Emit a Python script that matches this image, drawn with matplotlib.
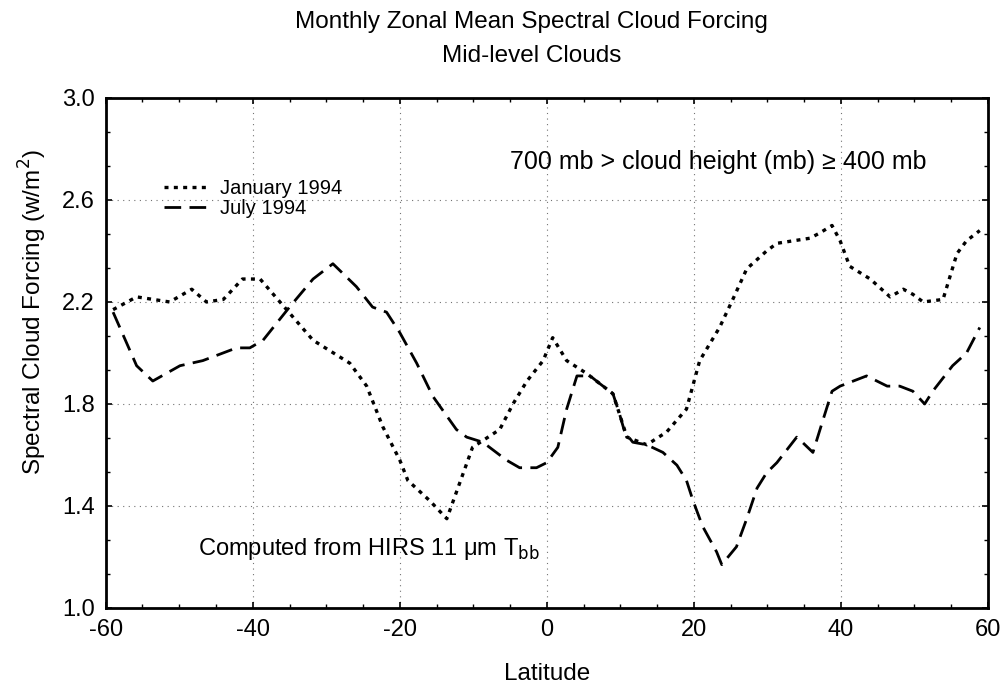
import numpy as np
import matplotlib
matplotlib.use('Agg')
import matplotlib.pyplot as plt
from matplotlib.ticker import MultipleLocator, FixedLocator

plt.rcParams['font.family'] = ['Liberation Sans', 'DejaVu Sans']
plt.rcParams['axes.unicode_minus'] = False

# january 1994 (dotted)
jan_lat = [-59, -55.8, -51.3, -48.3, -46.3, -44, -41.4, -39, -36.3, -31.8, -26.8, -24.5,
           -22.3, -20, -18.9, -15.9, -13.6, -10.1, -6.4, -4.6, -2.7, -0.5, 0.8, 2.7,
           5.4, 9.0, 10.9, 13.6, 16.3, 19, 20.8, 23.5, 25.3, 27.2, 29.9, 31.3, 35.8,
           37.1, 38.8, 39.9, 41.2, 44, 46.7, 48.5, 49.8, 51.2, 53.9, 55.8, 57.1, 58.9]
jan_val = [2.17, 2.22, 2.20, 2.25, 2.20, 2.21, 2.29, 2.29, 2.20, 2.05, 1.96, 1.87,
           1.71, 1.58, 1.50, 1.42, 1.35, 1.63, 1.70, 1.80, 1.89, 1.97, 2.06, 1.97,
           1.92, 1.84, 1.67, 1.64, 1.69, 1.78, 1.97, 2.10, 2.21, 2.33, 2.40, 2.43, 2.45,
           2.47, 2.50, 2.44, 2.34, 2.29, 2.22, 2.25, 2.23, 2.20, 2.21, 2.39, 2.44, 2.48]

# july 1994 (dashed)
jul_lat = [-59, -55.8, -53.6, -49.9, -46.8, -42.2, -40.4, -38.6, -35, -31.8, -29.1, -25.9,
           -23.7, -21.8, -20, -17.7, -15.5, -12.3, -10.9, -8.7, -5.5, -3.7, -1.4, 0,
           1.5, 2.7, 4.1, 5.9, 7.2, 9, 9.9, 10.6, 11.7, 13.6, 15.8, 17.7, 19, 19.9,
           21.2, 23.1, 23.8, 25.8, 27.2, 28.6, 29.9, 31.3, 34, 34.4, 36.2, 37.6, 38.8,
           39.9, 43.5, 46.3, 48, 49.8, 51.4, 52.5, 55.2, 57.1, 58.9]
jul_val = [2.16, 1.95, 1.89, 1.95, 1.97, 2.02, 2.02, 2.05, 2.18, 2.29, 2.35, 2.26,
           2.18, 2.16, 2.08, 1.96, 1.83, 1.70, 1.67, 1.65, 1.58, 1.55, 1.55, 1.57,
           1.63, 1.78, 1.91, 1.91, 1.88, 1.84, 1.76, 1.69, 1.65, 1.64, 1.61, 1.56, 1.50, 1.42,
           1.32, 1.22, 1.17, 1.24, 1.35, 1.47, 1.53, 1.57, 1.67, 1.66, 1.61, 1.74, 1.85,
           1.87, 1.91, 1.87, 1.87, 1.85, 1.80, 1.85, 1.95, 2.00, 2.10]

yticks = [1.0, 1.4, 1.8, 2.2, 2.6, 3.0]
xticks = [-60, -40, -20, 0, 20, 40, 60]

fig = plt.figure(figsize=(10.07, 6.89), dpi=100)
ax = fig.add_axes([0.105, 0.1176, 0.876, 0.7402])

ax.plot(jan_lat, jan_val, color='black', lw=2.4, linestyle=(0, (1.2, 1.6)), label='January 1994')
ax.plot(jul_lat, jul_val, color='black', lw=2.0, linestyle=(0, (6, 3)), label='July 1994')

ax.set_xlim(-60, 60)
ax.set_ylim(1.0, 3.0)
ax.set_xticks(xticks)
ax.set_xticklabels([str(v) for v in xticks])
ax.xaxis.set_minor_locator(MultipleLocator(5))
ax.set_yticks(yticks)
ax.set_yticklabels([f'{v:.1f}' for v in yticks])
ax.yaxis.set_minor_locator(FixedLocator(np.arange(1.0, 3.01, 0.4 / 3)))
ax.tick_params(which='both', direction='in', top=True, right=True, labelsize=17)
ax.tick_params(which='major', length=4, width=1.2, pad=8)
ax.tick_params(which='minor', length=3, width=1)
for s in ax.spines.values():
    s.set_linewidth(2)
ax.grid(True, which='major', color='0.45', linestyle=(0, (1, 4)), linewidth=0.8)

ax.set_xlabel('Latitude', fontsize=17.5, labelpad=16)
ax.set_ylabel('Spectral Cloud Forcing (w/m$^2$)', fontsize=17.5)
ax.yaxis.set_label_coords(-0.064, 0.58)
fig.text(0.528, 0.968, 'Monthly Zonal Mean Spectral Cloud Forcing', ha='center', va='center', fontsize=17.5)
fig.text(0.528, 0.918, 'Mid-level Clouds', ha='center', va='center', fontsize=17.5)

ax.text(0.93, 0.875, '700 mb > cloud height (mb) \u2265 400 mb', transform=ax.transAxes,
        ha='right', va='center', fontsize=18)
ax.text(0.105, 0.115, 'Computed from HIRS 11 \u03bcm T$_{\\mathrm{bb}}$', transform=ax.transAxes,
        ha='left', va='center', fontsize=17)

ax.legend(loc='upper left', bbox_to_anchor=(0.05, 0.868), frameon=False, fontsize=14.5,
          handlelength=2.3, labelspacing=0.05, borderpad=0.2, handletextpad=0.5)

plt.savefig('out.png', dpi=100)
